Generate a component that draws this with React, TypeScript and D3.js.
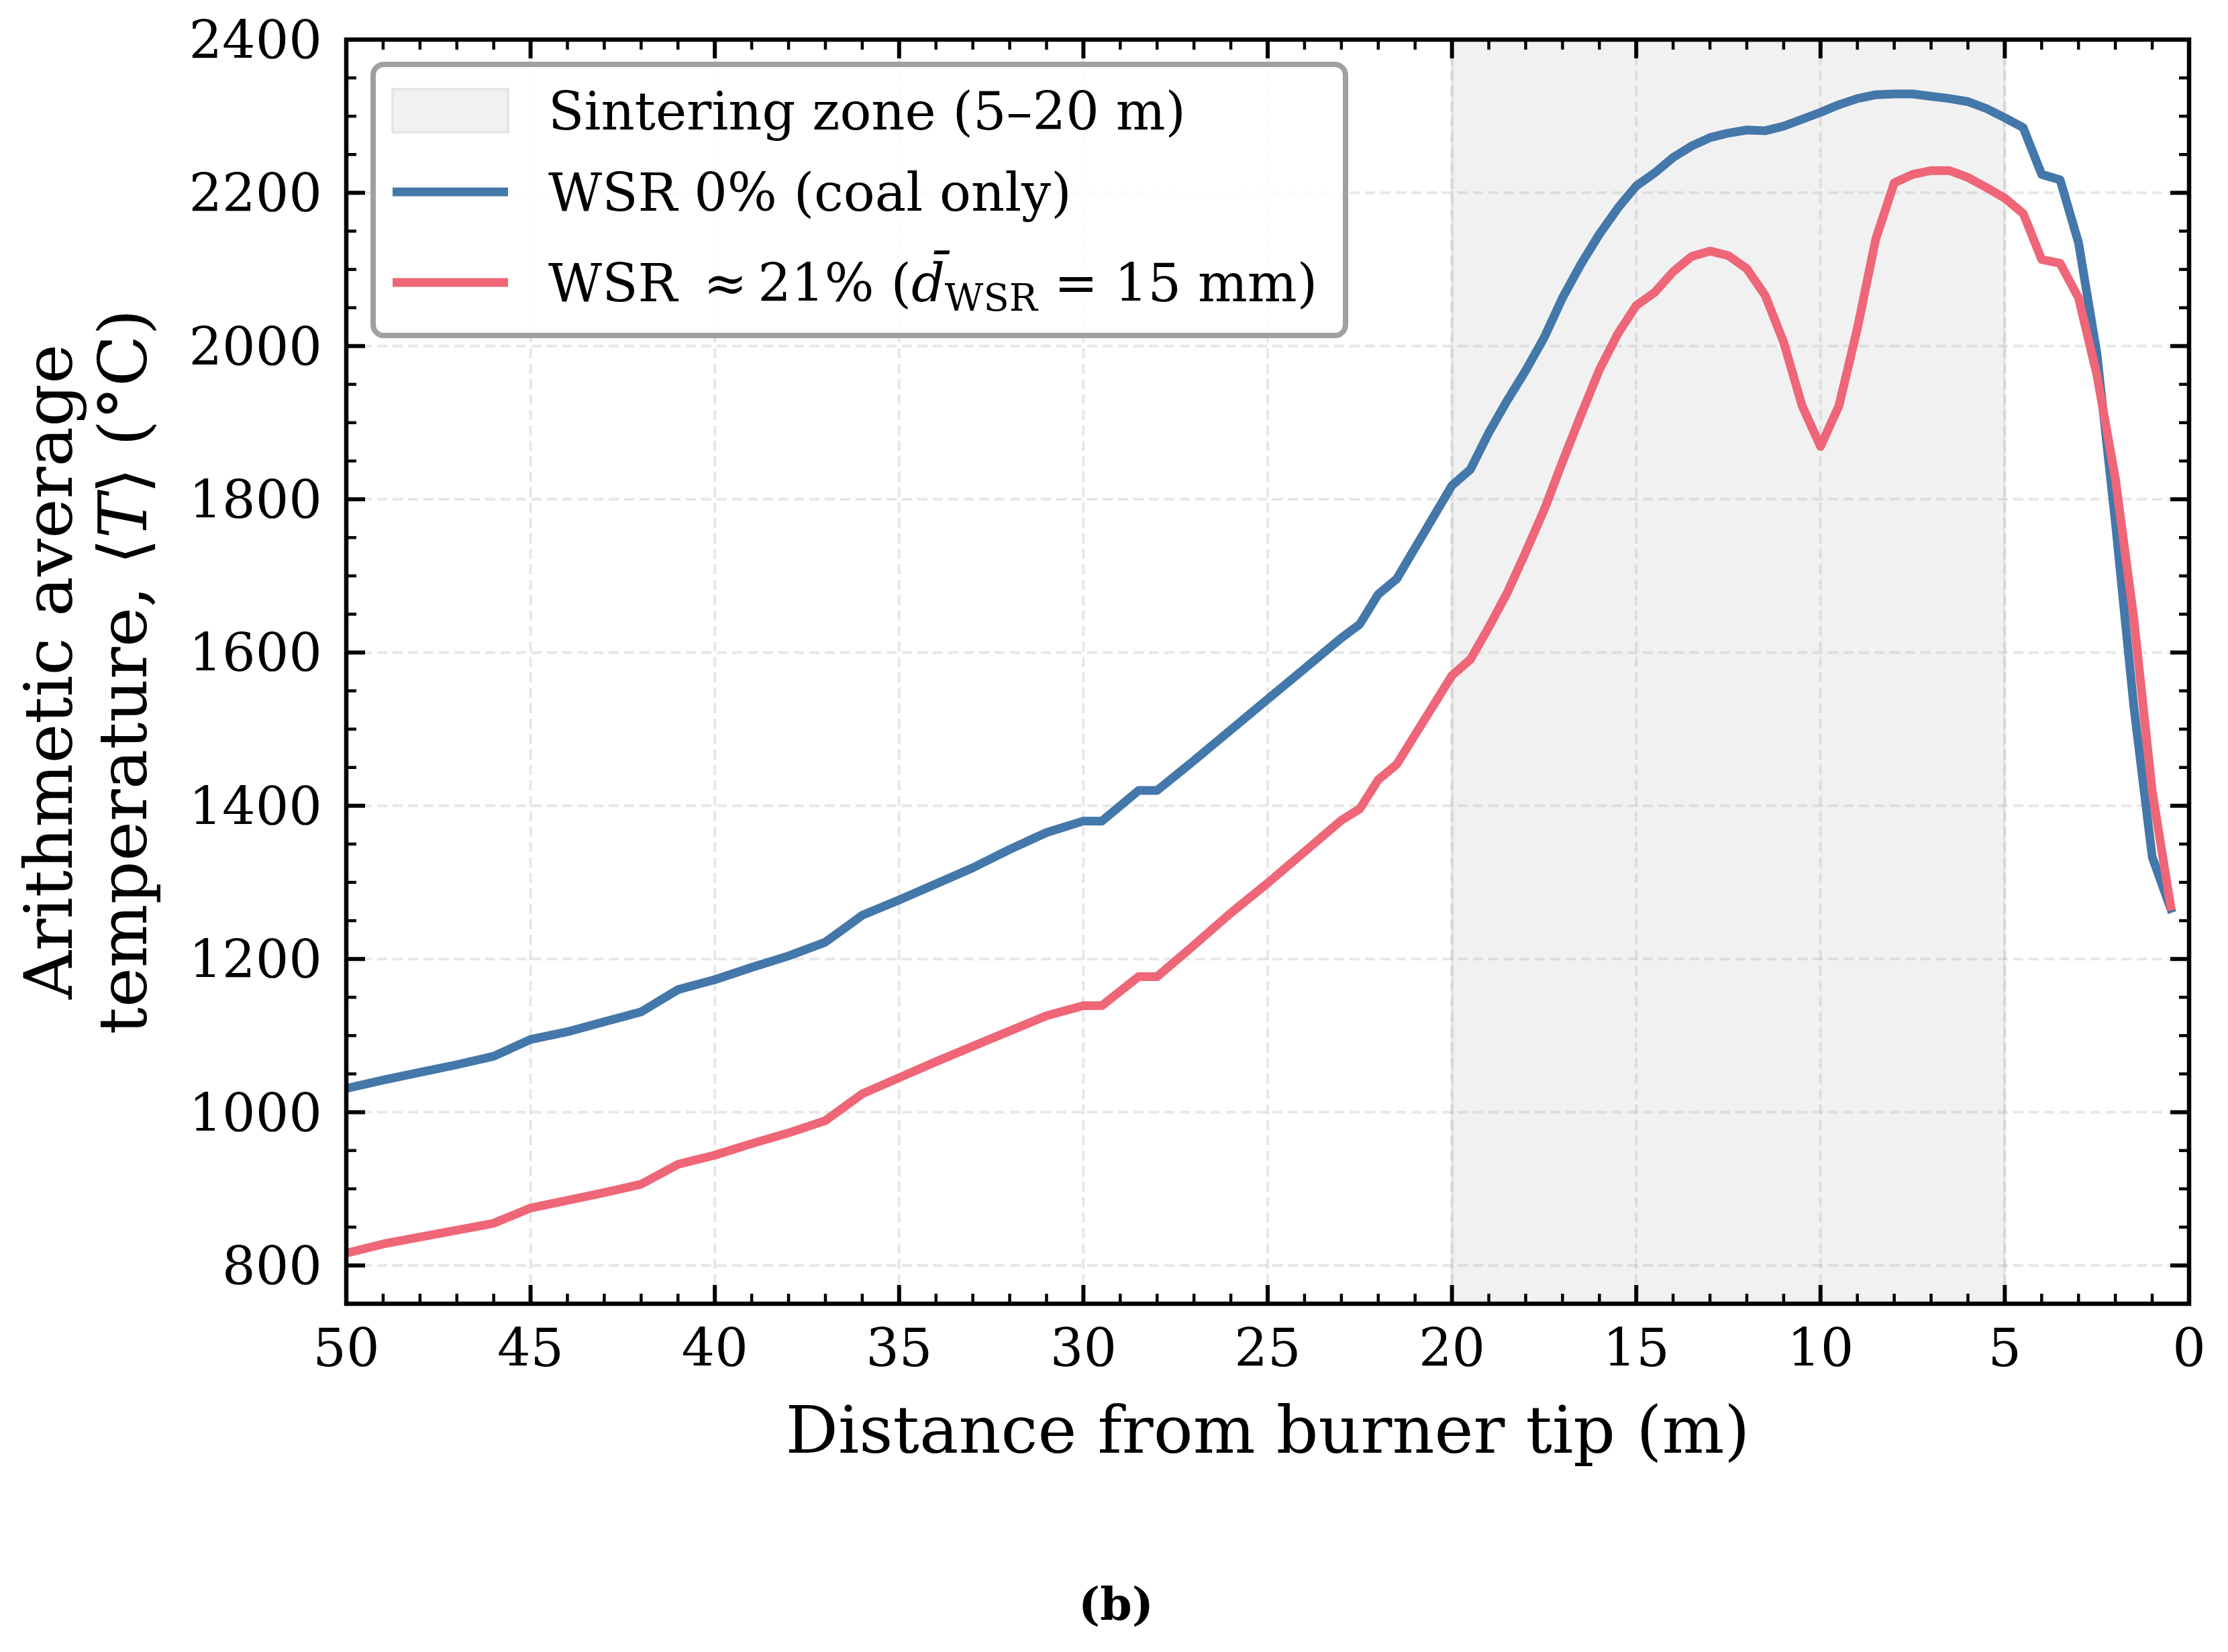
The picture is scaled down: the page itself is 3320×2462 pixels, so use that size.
import * as d3 from "d3"

// distance from burner tip (m), shared by both series
const distance = [
  50, 49, 48, 47, 46, 45, 44, 43, 42, 41, 40, 39, 38, 37, 36, 35, 34, 33, 32, 31, 30,
  29.5, 28.5, 28, 27, 26, 25, 24, 23, 22.5, 22, 21.5,
  20, 19.5, 19, 18.5, 18, 17.5, 17, 16.5, 16, 15.5, 15, 14.5, 14, 13.5, 13, 12.5,
  12, 11.5, 11, 10.5, 10, 9.5, 9, 8.5, 8, 7.5, 7, 6.5, 6, 5.5, 5, 4.5, 4, 3.5,
  3, 2.5, 2, 1.5, 1, 0.5,
]

const tempCoal = [
  1031, 1042, 1052, 1062, 1073, 1095, 1105, 1118, 1131, 1160, 1173, 1189, 1204, 1222, 1257, 1277, 1298, 1319, 1343, 1365, 1380,
  1380, 1420, 1420, 1459, 1499, 1539, 1579, 1619, 1637, 1676, 1696,
  1818, 1839, 1887, 1929, 1968, 2011, 2063, 2107, 2146, 2180, 2209, 2226, 2246, 2261, 2272, 2278,
  2282, 2281, 2287, 2296, 2305, 2315, 2323, 2328, 2329, 2329, 2326, 2323, 2319, 2310, 2298, 2285, 2224, 2217,
  2135, 1990, 1770, 1530, 1333, 1266,
]

const tempWsr = [
  816, 828, 837, 846, 855, 875, 885, 895, 906, 932, 944, 959, 973, 989, 1024, 1045, 1066, 1086, 1106, 1126, 1139,
  1139, 1177, 1177, 1218, 1260, 1299, 1340, 1381, 1396, 1434, 1454,
  1570, 1591, 1633, 1678, 1731, 1786, 1849, 1910, 1969, 2016, 2053, 2070, 2097, 2117, 2124, 2118,
  2101, 2066, 2005, 1922, 1869, 1922, 2023, 2140, 2213, 2224, 2229, 2229, 2220, 2207, 2193, 2173, 2113, 2108,
  2063, 1962, 1827, 1645, 1419, 1269,
]

const sinteringZone = [5, 20]
const xTicks = [50, 45, 40, 35, 30, 25, 20, 15, 10, 5, 0]
const yTicks = [800, 1000, 1200, 1400, 1600, 1800, 2000, 2200, 2400]

const BLUE = "#4477AA"
const RED = "#EE6677"
const FONT = "'DejaVu Serif', 'DejaVu Sans', serif"

const W = 3320
const H = 2462
const m = { left: 516, right: 3262, top: 59, bottom: 1943 }

export default function App() {
  const x = d3.scaleLinear().domain([50, 0]).range([m.left, m.right])
  const y = d3.scaleLinear().domain([750, 2400]).range([m.bottom, m.top])

  const xMinor = d3.range(0, 51, 1).filter((v) => v % 5 !== 0)
  const yMinor = d3.range(750, 2401, 50).filter((v) => v % 200 !== 0)

  const line = d3
    .line<number>()
    .x((_, i) => x(distance[i]))
    .y((d) => y(d))

  const majorLen = 28
  const minorLen = 15
  const lw = 13

  const legendRows = [165, 286, 421]

  return (
    <svg
      width={W}
      height={H}
      viewBox={`0 0 ${W} ${H}`}
      style={{ position: "absolute", left: 0, top: 0, background: "#fff" }}
      fontFamily={FONT}
    >
      <defs>
        <clipPath id="plot">
          <rect x={m.left} y={m.top} width={m.right - m.left} height={m.bottom - m.top} />
        </clipPath>
      </defs>
      <rect width={W} height={H} fill="#fff" />

      {/* sintering zone */}
      <rect
        x={x(sinteringZone[1])}
        y={m.top}
        width={x(sinteringZone[0]) - x(sinteringZone[1])}
        height={m.bottom - m.top}
        fill="#f1f1f1"
      />
      {sinteringZone.map((d) => (
        <line key={d} x1={x(d)} x2={x(d)} y1={m.top} y2={m.bottom} stroke="#000" strokeOpacity={0.06} strokeWidth={5} />
      ))}

      {/* grid */}
      <g stroke="#b0b0b0" strokeOpacity={0.3} strokeWidth={4} strokeDasharray="15 8">
        {xTicks.map((t) => (
          <line key={`gx${t}`} x1={x(t)} x2={x(t)} y1={m.top} y2={m.bottom} />
        ))}
        {yTicks.map((t) => (
          <line key={`gy${t}`} x1={m.left} x2={m.right} y1={y(t)} y2={y(t)} />
        ))}
      </g>

      {/* series */}
      <g clipPath="url(#plot)" fill="none" strokeWidth={lw} strokeLinejoin="round" strokeLinecap="square">
        <path d={line(tempCoal) ?? ""} stroke={BLUE} />
        <path d={line(tempWsr) ?? ""} stroke={RED} />
      </g>

      {/* ticks, all four sides, inward */}
      <g stroke="#000">
        {xTicks.map((t) => (
          <g key={`tx${t}`} strokeWidth={6}>
            <line x1={x(t)} x2={x(t)} y1={m.bottom} y2={m.bottom - majorLen} />
            <line x1={x(t)} x2={x(t)} y1={m.top} y2={m.top + majorLen} />
          </g>
        ))}
        {xMinor.map((t) => (
          <g key={`mx${t}`} strokeWidth={4.5}>
            <line x1={x(t)} x2={x(t)} y1={m.bottom} y2={m.bottom - minorLen} />
            <line x1={x(t)} x2={x(t)} y1={m.top} y2={m.top + minorLen} />
          </g>
        ))}
        {yTicks.map((t) => (
          <g key={`ty${t}`} strokeWidth={6}>
            <line x1={m.left} x2={m.left + majorLen} y1={y(t)} y2={y(t)} />
            <line x1={m.right} x2={m.right - majorLen} y1={y(t)} y2={y(t)} />
          </g>
        ))}
        {yMinor.map((t) => (
          <g key={`my${t}`} strokeWidth={4.5}>
            <line x1={m.left} x2={m.left + minorLen} y1={y(t)} y2={y(t)} />
            <line x1={m.right} x2={m.right - minorLen} y1={y(t)} y2={y(t)} />
          </g>
        ))}
      </g>
      <rect
        x={m.left}
        y={m.top}
        width={m.right - m.left}
        height={m.bottom - m.top}
        fill="none"
        stroke="#000"
        strokeWidth={6.5}
      />

      {/* tick labels */}
      {xTicks.map((t) => (
        <text key={`lx${t}`} x={x(t)} y={2036} fontSize={78} textAnchor="middle">
          {t}
        </text>
      ))}
      {yTicks.map((t) => (
        <text key={`ly${t}`} x={480} y={y(t) + 28} fontSize={78} textAnchor="end">
          {t}
        </text>
      ))}

      {/* axis labels */}
      <text x={(m.left + m.right) / 2} y={2165} fontSize={98} textAnchor="middle">
        Distance from burner tip (m)
      </text>
      <text
        transform={`translate(107, ${(m.top + m.bottom) / 2}) rotate(-90)`}
        fontSize={100}
        textAnchor="middle"
      >
        Arithmetic average
      </text>
      <text
        transform={`translate(218, ${(m.top + m.bottom) / 2}) rotate(-90)`}
        fontSize={100}
        textAnchor="middle"
      >
        temperature, ⟨<tspan fontStyle="italic">T</tspan>⟩ (°C)
      </text>

      {/* legend */}
      <rect x={556} y={96} width={1449} height={404} rx={16} fill="#fff" fillOpacity={0.85} stroke="#a0a0a0" strokeWidth={8} />
      <rect x={585} y={legendRows[0] - 32} width={172} height={64} fill="#f1f1f1" stroke="#e6e6e6" strokeWidth={4} />
      <line x1={585} x2={757} y1={legendRows[1]} y2={legendRows[1]} stroke={BLUE} strokeWidth={lw} />
      <line x1={585} x2={757} y1={legendRows[2]} y2={legendRows[2]} stroke={RED} strokeWidth={lw} />
      <text x={817} y={legendRows[0] + 28} fontSize={78}>
        Sintering zone (5–20 m)
      </text>
      <text x={817} y={legendRows[1] + 28} fontSize={78}>
        WSR 0% (coal only)
      </text>
      <text x={817} y={legendRows[2] + 28} fontSize={78}>
        WSR{"\u2002"}≈{"\u2009"}21% (<tspan fontStyle="italic">d{"\u0304"}</tspan>
        <tspan fontSize={56} dy={14}>WSR</tspan>
        <tspan dy={-14}> = 15 mm)</tspan>
      </text>

      {/* panel caption */}
      <text x={1663} y={2414} fontSize={68} fontWeight="bold" textAnchor="middle">
        (b)
      </text>
    </svg>
  )
}
